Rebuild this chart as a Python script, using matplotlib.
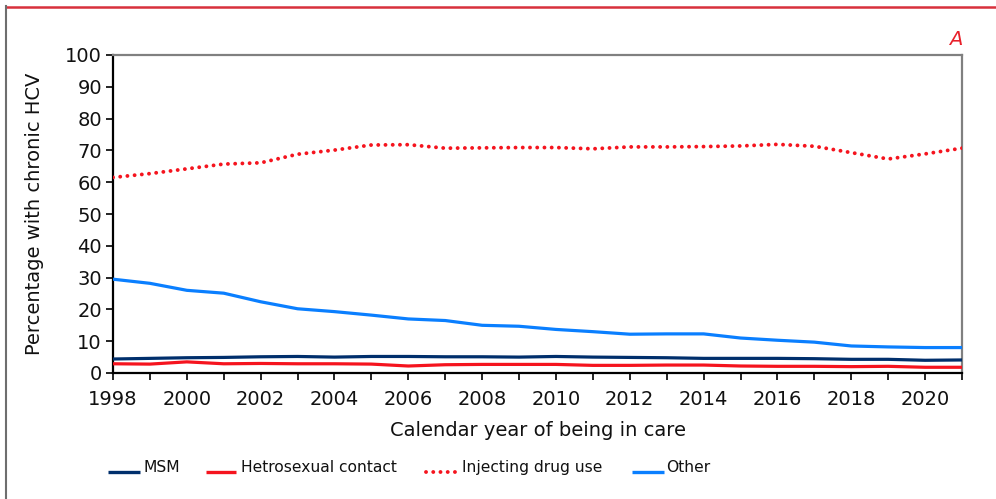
import matplotlib
matplotlib.use("Agg")
import matplotlib.pyplot as plt
from matplotlib.lines import Line2D

years = list(range(1998, 2022))

msm = [4.4, 4.6, 4.8, 4.9, 5.1, 5.2, 5.0, 5.2, 5.2, 5.1, 5.1, 5.0,
       5.2, 5.0, 4.9, 4.8, 4.6, 4.6, 4.6, 4.5, 4.3, 4.3, 4.0, 4.1]
hetero = [2.9, 2.8, 3.5, 2.9, 3.0, 2.9, 2.9, 2.8, 2.2, 2.6, 2.7, 2.7,
          2.7, 2.4, 2.4, 2.5, 2.5, 2.2, 2.1, 2.1, 2.0, 2.1, 1.8, 1.8]
idu = [61.5, 62.7, 64.2, 65.7, 66.1, 68.8, 70.1, 71.7, 71.8, 70.7, 70.8, 70.9,
       70.9, 70.5, 71.1, 71.1, 71.2, 71.4, 71.9, 71.3, 69.3, 67.3, 68.9, 70.7]
other = [29.5, 28.2, 26.0, 25.1, 22.4, 20.2, 19.3, 18.2, 17.0, 16.5, 15.0, 14.7,
         13.7, 13.0, 12.2, 12.3, 12.3, 11.0, 10.3, 9.7, 8.5, 8.2, 8.0, 8.0]

labels = ["MSM", "Hetrosexual contact", "Injecting drug use", "Other"]
xticks = list(range(1998, 2021, 2))
yticks = list(range(0, 101, 10))

C_MSM = "#002F6C"
C_RED = "#F5141E"
C_OTHER = "#0A7FFF"

plt.rcParams["font.family"] = ["DejaVu Sans"]

fig = plt.figure(figsize=(9.96, 4.99), dpi=100)
ax = fig.add_axes([113 / 996, 1 - 373 / 499, (962 - 113) / 996, (373 - 55) / 499])

ax.plot(years, msm, color=C_MSM, lw=2.3, solid_capstyle="butt", zorder=3)
ax.plot(years, hetero, color=C_RED, lw=2.3, solid_capstyle="butt", zorder=3)
ax.plot(years, other, color=C_OTHER, lw=2.3, solid_capstyle="butt", zorder=3)
ax.plot(years, idu, color=C_RED, lw=2.8, linestyle=(0, (0.01, 1.85)),
        dash_capstyle="round", zorder=3)

ax.set_xlim(1998, 2021)
ax.set_ylim(0, 100)
ax.set_xticks(years, minor=True)
ax.set_xticks(xticks)
ax.set_xticklabels([str(y) for y in xticks])
ax.set_yticks(yticks)

ax.tick_params(axis="both", which="both", direction="out", length=5, width=1.2,
               color="black", labelsize=14, labelcolor="#111111")
ax.tick_params(axis="x", which="major", pad=7)
ax.tick_params(axis="y", pad=3)

for side in ("left", "bottom"):
    ax.spines[side].set_color("black")
    ax.spines[side].set_linewidth(1.6)
for side in ("top", "right"):
    ax.spines[side].set_color("#808080")
    ax.spines[side].set_linewidth(1.6)

ax.set_xlabel("Calendar year of being in care", fontsize=14, color="#111111", labelpad=9)
ax.set_ylabel("Percentage with chronic HCV", fontsize=14, color="#111111", labelpad=15)

ax.text(1.0, 1.02, "A", transform=ax.transAxes, ha="right", va="bottom",
        fontsize=14, fontstyle="italic", color="#E8202A")

# legend row beneath the axis title
W, H = 996.0, 499.0
leg_y = 1 - 472 / H
items = [
    (108, 140, 143, dict(color=C_MSM, lw=2.4, solid_capstyle="butt")),
    (206, 236, 241, dict(color=C_RED, lw=2.4, solid_capstyle="butt")),
    (426, 456, 462, dict(color=C_RED, lw=2.8, linestyle=(0, (0.01, 1.85)),
                         dash_capstyle="round")),
    (632, 664, 666, dict(color=C_OTHER, lw=2.4, solid_capstyle="butt")),
]
for (x0, x1, xt, style), lab in zip(items, labels):
    fig.add_artist(Line2D([x0 / W, x1 / W], [leg_y, leg_y],
                          transform=fig.transFigure, **style))
    fig.text(xt / W, leg_y, lab, ha="left", va="baseline", fontsize=11.2,
             color="#111111")

# frame lines around the panel
fig.add_artist(Line2D([6 / W, 1.0], [1 - 6.5 / H, 1 - 6.5 / H],
                      transform=fig.transFigure, color="#D8303C", lw=1.8))
fig.add_artist(Line2D([6 / W, 6 / W], [0, 1 - 6 / H],
                      transform=fig.transFigure, color="#6E6E6E", lw=1.5))

fig.savefig("out.png", dpi=100)
